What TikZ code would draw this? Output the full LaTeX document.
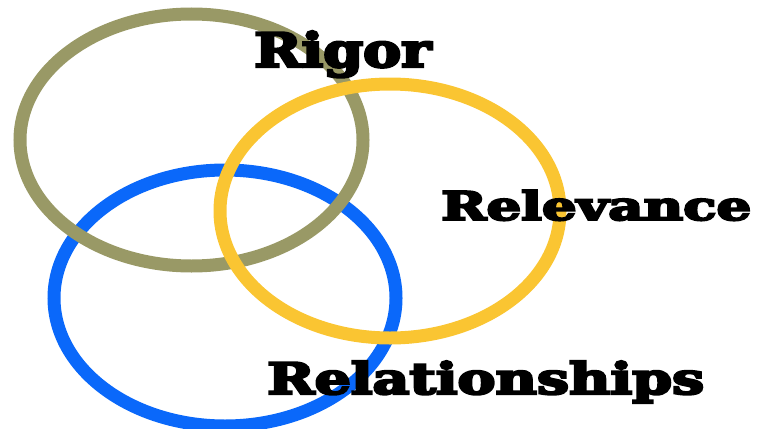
\documentclass[tikz,border=0pt]{standalone}
\usepackage{fontspec}
\usepackage{graphicx}
\newfontfamily\fatfont{DejaVu Serif}[BoldFeatures={FakeBold=5}]
\definecolor{olivering}{RGB}{153,153,102}
\definecolor{goldring}{RGB}{250,197,50}
\definecolor{bluering}{RGB}{10,104,250}
\tikzset{
  ring/.style={line width=13pt},
  word/.style={anchor=base west, inner sep=0pt, font=\fatfont\bfseries}
}
\begin{document}
\begin{tikzpicture}[x=1pt,y=-1pt]
\useasboundingbox (0,0) rectangle (759,428);
\draw[ring, bluering] (225,298) ellipse [x radius=171, y radius=128];
\draw[ring, olivering] (191.5,140) ellipse [x radius=171.5, y radius=126];
\draw[ring, goldring] (390,211) ellipse [x radius=170, y radius=127];
\node[word] (rigor) at (254,67) {\resizebox{177pt}{36pt}{Rigor}};
\node[word] (relevance) at (441,220) {\resizebox{310pt}{30pt}{Relevance}};
\node[word] (relationships) at (267,394) {\resizebox{437pt}{33pt}{Relationships}};
\end{tikzpicture}
\end{document}
